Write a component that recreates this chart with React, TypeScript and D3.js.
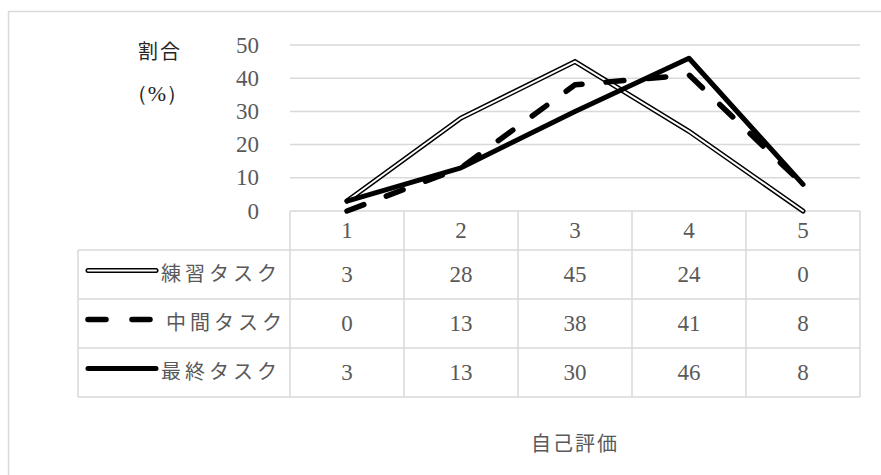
import React from "react";
import * as d3 from "d3";

const categories = ["1", "2", "3", "4", "5"];
const seriesNames = ["練習タスク", "中間タスク", "最終タスク"];
const practice = [3, 28, 45, 24, 0];
const middle = [0, 13, 38, 41, 8];
const finalTask = [3, 13, 30, 46, 8];
const yTicks = [0, 10, 20, 30, 40, 50];
const yTitle1 = "割合";
const yTitle2 = "（%）";
const xTitle = "自己評価";

const W = 881;
const H = 475;
const plotLeft = 290;
const plotRight = 860;
const plotTop = 45;
const plotBottom = 211;
const headerBottom = 250;
const rowH = 49;
const tableLeft = 78;

const GRID = "#d9d9d9";
const TXT = "#595959";
const NUMFONT = "'Liberation Serif', 'DejaVu Serif', serif";
const JPFONT = "'Noto Sans CJK JP', 'Noto Sans', sans-serif";

export default function App() {
  const x = d3.scaleBand<string>().domain(categories).range([plotLeft, plotRight]).padding(0);
  const y = d3.scaleLinear().domain([0, 50]).range([plotBottom, plotTop]);
  const cx = (c: string) => (x(c) as number) + x.bandwidth() / 2;
  const line = d3
    .line<number>()
    .x((_, i) => cx(categories[i]))
    .y((d) => y(d));

  const series = [practice, middle, finalTask];
  const rowTop = (i: number) => headerBottom + i * rowH;
  const tableBottom = rowTop(series.length);

  return (
    <svg
      width={W}
      height={H}
      style={{ position: "absolute", left: 0, top: 0, background: "#fff" }}
    >
      <rect x={8.5} y={11.5} width={W + 20} height={H + 20} fill="#fff" stroke={GRID} strokeWidth={1.5} />

      {/* gridlines */}
      {yTicks.slice(1).map((t) => (
        <line key={t} x1={plotLeft} x2={plotRight} y1={y(t)} y2={y(t)} stroke={GRID} strokeWidth={1.5} />
      ))}
      {/* y tick labels */}
      {yTicks.map((t) => (
        <text
          key={"l" + t}
          x={259}
          y={y(t)}
          textAnchor="end"
          dominantBaseline="central"
          fontFamily={NUMFONT}
          fontSize={23}
          fill={TXT}
        >
          {t}
        </text>
      ))}

      {/* y title */}
      <text x={160} y={50} textAnchor="middle" dominantBaseline="central" fontFamily={JPFONT} fontSize={20} letterSpacing={2} fill="#262626">
        {yTitle1}
      </text>
      <text x={157} y={93} textAnchor="middle" dominantBaseline="central" fontFamily={NUMFONT} fontSize={22} fill="#262626">
        {yTitle2}
      </text>

      {/* table */}
      <g stroke={GRID} strokeWidth={1.5} fill="none">
        <line x1={plotLeft} x2={plotRight} y1={plotBottom} y2={plotBottom} />
        <line x1={tableLeft} x2={plotRight} y1={headerBottom} y2={headerBottom} />
        {series.map((_, i) => (
          <line key={"h" + i} x1={tableLeft} x2={plotRight} y1={rowTop(i + 1)} y2={rowTop(i + 1)} />
        ))}
        <line x1={tableLeft} x2={tableLeft} y1={headerBottom} y2={tableBottom} />
        {categories.map((c) => (
          <line key={"v" + c} x1={x(c) as number} x2={x(c) as number} y1={plotBottom} y2={tableBottom} />
        ))}
        <line x1={plotRight} x2={plotRight} y1={plotBottom} y2={tableBottom} />
      </g>

      {/* category labels */}
      {categories.map((c) => (
        <text key={"c" + c} x={cx(c)} y={(plotBottom + headerBottom) / 2} textAnchor="middle" dominantBaseline="central" fontFamily={NUMFONT} fontSize={23} fill={TXT}>
          {c}
        </text>
      ))}

      {/* table values */}
      {series.map((s, i) =>
        s.map((v, j) => (
          <text
            key={"v" + i + "-" + j}
            x={cx(categories[j])}
            y={rowTop(i) + rowH / 2}
            textAnchor="middle"
            dominantBaseline="central"
            fontFamily={NUMFONT}
            fontSize={23}
            fill={TXT}
          >
            {v}
          </text>
        ))
      )}

      {/* legend keys */}
      {seriesNames.map((n, i) => {
        const ly = rowTop(i) + rowH / 2 - 4;
        return (
          <g key={"k" + i}>
            {i === 0 && (
              <>
                <line x1={88} x2={156} y1={ly} y2={ly} stroke="#000" strokeWidth={5} strokeLinecap="round" />
                <line x1={88} x2={156} y1={ly} y2={ly} stroke="#fff" strokeWidth={2} strokeLinecap="round" />
              </>
            )}
            {i === 1 && (
              <line x1={88} x2={156} y1={ly} y2={ly} stroke="#000" strokeWidth={5.5} strokeLinecap="round" strokeDasharray="18 26" />
            )}
            {i === 2 && (
              <line x1={88} x2={156} y1={ly} y2={ly} stroke="#000" strokeWidth={5} strokeLinecap="round" />
            )}
            <text
              x={i === 1 ? 166 : 161}
              y={rowTop(i) + rowH / 2 - 2}
              dominantBaseline="central"
              fontFamily={JPFONT}
              fontSize={20}
              letterSpacing={4}
              fill={TXT}
            >
              {n}
            </text>
          </g>
        );
      })}

      {/* data lines */}
      <path d={line(practice) || ""} fill="none" stroke="#000" strokeWidth={5} strokeLinejoin="miter" strokeLinecap="round" />
      <path d={line(practice) || ""} fill="none" stroke="#fff" strokeWidth={2} strokeLinejoin="miter" strokeLinecap="round" />
      <path d={line(middle) || ""} fill="none" stroke="#000" strokeWidth={5.5} strokeLinecap="round" strokeLinejoin="round" strokeDasharray="18 24" />
      <path d={line(finalTask) || ""} fill="none" stroke="#000" strokeWidth={5} strokeLinecap="round" strokeLinejoin="round" />

      {/* x title */}
      <text x={575} y={442} textAnchor="middle" dominantBaseline="central" fontFamily={JPFONT} fontSize={20} letterSpacing={2} fill={TXT}>
        {xTitle}
      </text>
    </svg>
  );
}
